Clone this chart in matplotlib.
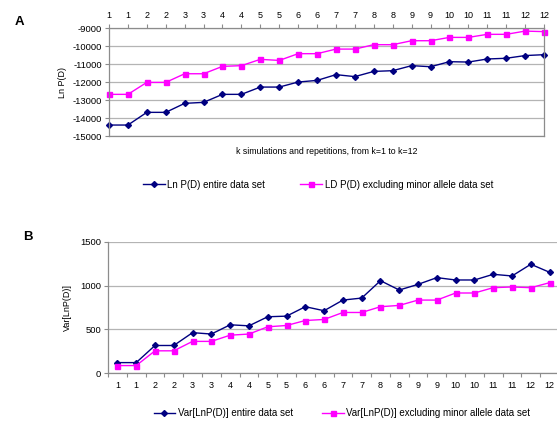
import matplotlib
matplotlib.use("Agg")
import matplotlib.pyplot as plt
import numpy as np

plt.rcParams['font.family'] = ['Liberation Sans', 'DejaVu Sans']
plt.rcParams['axes.unicode_minus'] = False

# k labels (each k run twice)
k_labels = [str(k) for k in range(1, 13) for _ in range(2)]

# Panel A: Ln P(D)
lnp_entire = [-14390, -14390, -13685, -13685, -13185, -13130, -12685, -12685,
              -12280, -12280, -12000, -11910, -11590, -11700, -11410, -11370,
              -11090, -11150, -10870, -10890, -10720, -10680, -10530, -10480]
lnp_minor = [-12685, -12685, -12020, -12020, -11540, -11540, -11130, -11090,
             -10740, -10800, -10425, -10425, -10170, -10170, -9925, -9925,
             -9705, -9705, -9520, -9520, -9350, -9350, -9170, -9200]

# Panel B: Var[LnP(D)]
var_entire = [119, 119, 315, 315, 462, 446, 552, 540, 644, 651, 759, 713,
              835, 858, 1057, 950, 1015, 1092, 1065, 1065, 1130, 1111, 1245, 1153]
var_minor = [85, 85, 254, 254, 362, 362, 433, 446, 529, 544, 601, 613,
             693, 693, 759, 774, 835, 835, 916, 916, 977, 985, 977, 1034]

navy = '#000080'
magenta = '#ff00ff'
grid_c = '#b4b4b4'
spine_c = '#8c8c8c'

fig = plt.figure(figsize=(5.57, 4.28), dpi=100)
x = np.arange(len(k_labels))

# ---- Panel A ----
axA = fig.add_axes([0.1957, 0.6822, 0.781, 0.2523])
axA.plot(x, lnp_entire, color=navy, lw=1, marker='D', ms=3.0, clip_on=False,
         label='Ln P(D) entire data set')
axA.plot(x, lnp_minor, color=magenta, lw=1, marker='s', ms=3.6, clip_on=False,
         label='LD P(D) excluding minor allele data set')
axA.set_xlim(0, len(x) - 1)
axA.set_ylim(-15000, -9000)
axA.set_yticks(np.arange(-15000, -8999, 1000))
axA.yaxis.grid(True, color=grid_c, lw=0.9)
axA.set_axisbelow(True)
axA.xaxis.tick_top()
axA.set_xticks(x)
axA.set_xticklabels(k_labels)
axA.tick_params(axis='x', length=3, color=spine_c, labelsize=6.5, pad=3)
axA.tick_params(axis='y', length=3, color=spine_c, labelsize=6.8, pad=2)
for s in axA.spines.values():
    s.set_color(spine_c)
    s.set_linewidth(0.9)
axA.set_ylabel('Ln P(D)', fontsize=6.5, labelpad=4)
axA.set_xlabel('k simulations and repetitions, from k=1 to k=12', fontsize=6.3)
axA.xaxis.set_label_position('bottom')
axA.xaxis.labelpad = 8
axA.legend(loc='center', bbox_to_anchor=(0.571, 0.568), bbox_transform=fig.transFigure,
           ncol=2, frameon=False, fontsize=7, handlelength=2.2,
           columnspacing=3.6, handletextpad=0.3)
fig.text(0.027, 0.948, 'A', fontsize=9.5, fontweight='bold', va='center')

# ---- Panel B ----
axB = fig.add_axes([0.1939, 0.1285, 0.8097, 0.3061])
axB.plot(x, var_entire, color=navy, lw=1, marker='D', ms=3.0,
         label='Var[LnP(D)] entire data set')
axB.plot(x, var_minor, color=magenta, lw=1, marker='s', ms=3.6,
         label='Var[LnP(D)] excluding minor allele data set')
axB.set_xlim(-0.5, len(x) - 0.5)
axB.set_ylim(0, 1500)
axB.set_yticks([0, 500, 1000, 1500])
axB.yaxis.grid(True, color=grid_c, lw=0.9)
axB.set_axisbelow(True)
axB.set_xticks(np.arange(-0.5, len(x), 1))
axB.set_xticklabels([])
axB.set_xticks(x, minor=True)
axB.set_xticklabels(k_labels, minor=True)
axB.tick_params(axis='x', which='major', length=3, color=spine_c)
axB.tick_params(axis='x', which='minor', length=0, labelsize=6.5, pad=6)
axB.tick_params(axis='y', length=3, color=spine_c, labelsize=6.8, pad=2)
axB.spines['top'].set_visible(False)
axB.spines['right'].set_visible(False)
for s in ('left', 'bottom'):
    axB.spines[s].set_color(spine_c)
    axB.spines[s].set_linewidth(0.9)
axB.set_ylabel('Var[LnP(D)]', fontsize=6.5, labelpad=6)
axB.legend(loc='center', bbox_to_anchor=(0.614, 0.035), bbox_transform=fig.transFigure,
           ncol=2, frameon=False, fontsize=7, handlelength=2.2,
           columnspacing=3.0, handletextpad=0.3)
fig.text(0.042, 0.446, 'B', fontsize=9.5, fontweight='bold', va='center')

fig.savefig('out.png', dpi=100)
